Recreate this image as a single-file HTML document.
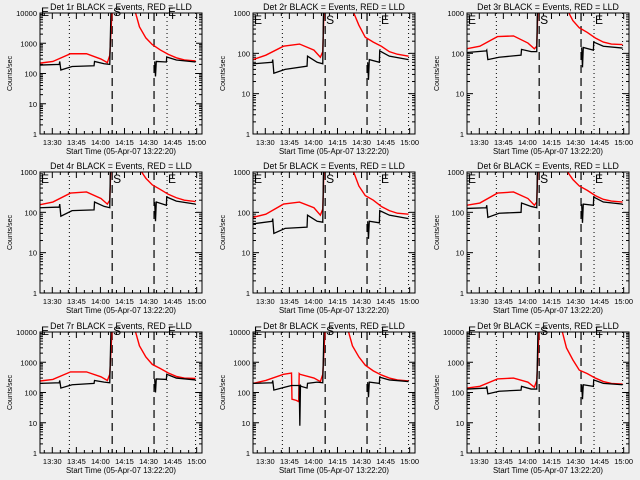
<!DOCTYPE html>
<html><head><meta charset="utf-8"><style>
html,body{margin:0;padding:0;background:#efefef;}
svg{display:block;font-family:"Liberation Sans",sans-serif;}
</style></head><body>
<svg id="chart" width="640" height="480" viewBox="0 0 640 480">
<rect width="640" height="480" fill="#efefef"/>
</svg>
<script>
// Times in minutes after 13:22:20
const tEvents = [0, 12, 12.3, 13, 20, 33.7, 34, 40, 43.5, 44.5, 58, 71.5, 72, 72.5, 78.8, 79, 85, 97];
const tLld = [0, 8, 19, 29, 38, 42, 43.5, 45, 58, 62, 66, 70, 75, 80, 85, 90, 97];
const tEvents8 = [0, 12, 12.3, 13, 20, 24, 28.5, 28.8, 29.2, 29.6, 30, 33.7, 34, 40, 43.5, 44.5, 58, 71.5, 72, 72.5, 78.8, 79, 85, 97];
const tLld8 = [0, 8, 19, 24, 24.3, 27, 28.5, 28.8, 29.2, 38, 42, 43.5, 45, 58, 62, 66, 70, 75, 80, 85, 90, 97];

const det1Events = [190,200,250,130,170,180,250,210,200,50000,null,250,80,250,240,350,280,240];
const det1Lld = [220,250,450,450,300,230,400,15000,20000,3500,1500,900,600,430,330,280,260];
const det2Events = [55,60,70,32,40,48,85,60,55,50000,null,60,22,70,60,115,85,70];
const det2Lld = [70,90,150,170,120,80,110,15000,15000,1200,500,250,190,150,110,95,85];
const det3Events = [105,115,120,70,80,90,125,110,110,50000,null,140,45,140,120,190,150,135];
const det3Lld = [130,150,260,270,180,130,150,15000,15000,1300,650,430,330,240,190,170,165];
const det4Events = [130,135,160,80,110,115,180,140,130,50000,null,180,60,180,150,240,190,160];
const det4Lld = [155,180,300,320,220,160,200,15000,15000,1200,700,480,370,280,230,200,185];
const det5Events = [52,60,70,30,40,43,85,60,57,50000,null,60,22,60,55,110,85,70];
const det5Lld = [75,90,160,180,130,85,120,15000,15000,1200,450,260,200,140,110,95,90];
const det6Events = [125,130,150,75,95,100,170,140,130,50000,null,160,55,160,150,240,180,160];
const det6Lld = [150,170,300,320,220,150,180,15000,15000,1100,650,450,350,260,210,190,180];
const det7Events = [200,210,250,140,180,200,250,220,210,50000,null,280,100,280,270,400,300,260];
const det7Lld = [240,270,480,480,330,250,400,15000,20000,3500,1500,850,620,440,340,300,290];
const det8Events = [200,210,250,120,150,170,170,170,8,170,160,140,200,220,210,50000,null,220,70,220,200,320,260,230];
const det8Lld = [200,250,400,440,60,55,50,420,400,300,230,400,15000,20000,3500,1500,800,520,380,300,260,240];
const det9Events = [130,140,160,90,110,120,160,130,130,50000,null,180,60,180,160,260,200,180];
const det9Lld = [140,160,280,300,220,150,250,15000,20000,3000,1200,550,420,300,230,200,190];

const detNames = ["1r","2r","3r","4r","5r","6r","7r","8r","9r"];
const detYMax = [10000,1000,1000,1000,1000,1000,10000,10000,10000];
const xTickLabels = ["13:30","13:45","14:00","14:15","14:30","14:45","15:00"];
const xTickTimes = [7.67,22.67,37.67,52.67,67.67,82.67,97.67];
const dottedTimes = [18.3,79.2,97];
const dashedTimes = [45,71.1];

const evSets = [det1Events,det2Events,det3Events,det4Events,det5Events,det6Events,det7Events,det8Events,det9Events];
const lldSets = [det1Lld,det2Lld,det3Lld,det4Lld,det5Lld,det6Lld,det7Lld,det8Lld,det9Lld];

const svg = document.getElementById('chart');
const NS = 'http://www.w3.org/2000/svg';
function mk(tag, attrs, parent){const e=document.createElementNS(NS,tag);for(const k in attrs)e.setAttribute(k,attrs[k]);(parent||svg).appendChild(e);return e;}

const colX = [40,253,467], rowY = [13,172,332];
const W = 162, H = 121, TMAX = 101;

for(let p=0;p<9;p++){
  const x0 = colX[p%3], y0 = rowY[Math.floor(p/3)];
  const ymax = detYMax[p];
  const dec = Math.log10(ymax);
  const xs = t => x0 + t/TMAX*W;
  const ys = v => y0 + H - Math.log10(v)/dec*H;
  const g = mk('g',{});
  
  
  const clipId='clip'+p;
  const cp = mk('clipPath',{id:clipId},g);
  mk('rect',{x:x0,y:y0,width:W,height:H},cp);

  const title = mk('text',{x:x0+W/2,y:y0-3,'text-anchor':'middle','font-size':'8.8'},g);
  title.textContent = 'Det '+detNames[p]+' BLACK = Events, RED = LLD';
  
  

  // y ticks
  for(let d=0; d<=dec; d++){
    const v = Math.pow(10,d), y = ys(v);
    mk('line',{x1:x0,x2:x0+6,y1:y,y2:y,stroke:'#000'},g);
    mk('line',{x1:x0+W,x2:x0+W-6,y1:y,y2:y,stroke:'#000'},g);
    const tl = mk('text',{x:x0-3,y:y+3,'text-anchor':'end','font-size':'7.5'},g);
    tl.textContent = String(v);
    
    
    if(d<dec){for(let m=2;m<10;m++){const ym=ys(m*v);
      mk('line',{x1:x0,x2:x0+3,y1:ym,y2:ym,stroke:'#000'},g);
      mk('line',{x1:x0+W,x2:x0+W-3,y1:ym,y2:ym,stroke:'#000'},g);}}
  }
  // x ticks
  for(let i=0;i<xTickTimes.length;i++){
    const x = xs(xTickTimes[i]);
    mk('line',{x1:x,x2:x,y1:y0+H,y2:y0+H-6,stroke:'#000'},g);
    mk('line',{x1:x,x2:x,y1:y0,y2:y0+6,stroke:'#000'},g);
    for(let m=1;m<3;m++){const xm=xs(xTickTimes[i]-m*5); if(xm>x0){
      mk('line',{x1:xm,x2:xm,y1:y0+H,y2:y0+H-3,stroke:'#000'},g);
      mk('line',{x1:xm,x2:xm,y1:y0,y2:y0+3,stroke:'#000'},g);}}
    const tl = mk('text',{x:x,y:y0+H+11,'text-anchor':'middle','font-size':'7.5'},g);
    tl.textContent = xTickLabels[i];
    
    
  }
  const xl = mk('text',{x:x0+W/2,y:y0+H+20,'text-anchor':'middle','font-size':'7.8'},g);
  xl.textContent = 'Start Time (05-Apr-07 13:22:20)';
  
  
  const yl = mk('text',{x:0,y:0,'text-anchor':'middle','font-size':'7','transform':'translate('+(x0-28)+','+(y0+H/2)+') rotate(-90)'},g);
  yl.textContent = 'Counts/sec';
  
  

  // vertical markers
  dottedTimes.forEach(t=>{const x=xs(t);const l=mk('line',{x1:x,x2:x,y1:y0,y2:y0+H,stroke:'#000','stroke-dasharray':'1 3'},g);
    
    });
  dashedTimes.forEach(t=>{const x=xs(t);const l=mk('line',{x1:x,x2:x,y1:y0,y2:y0+H,stroke:'#000','stroke-width':'1.2','stroke-dasharray':'8 5'},g);
    
    });
  const ly = ymax>1000 ? y0+3 : y0+11;
  [['E',x0+1],['S',xs(45)+1],['E',xs(79.2)+1]].forEach(a=>{const t=mk('text',{x:a[1],y:ly,'font-size':'12'},g);t.textContent=a[0];
    
    });

  // series
  function path(ts, vs){let d='',pen=false;for(let i=0;i<ts.length;i++){const v=vs[i];if(v==null){pen=false;continue;}
    d+=(pen?'L':'M')+xs(ts[i]).toFixed(2)+','+ys(v).toFixed(2);pen=true;}return d;}
  const tE = p===7 ? tEvents8 : tEvents, tL = p===7 ? tLld8 : tLld;
  const lr = mk('path',{d:path(tL,lldSets[p]),fill:'none',stroke:'#ff0000','stroke-width':'1.4','clip-path':'url(#'+clipId+')'},g);
  
  
  const lb = mk('path',{d:path(tE,evSets[p]),fill:'none',stroke:'#000','stroke-width':'1.3','clip-path':'url(#'+clipId+')'},g);
  
  

  const box = mk('rect',{x:x0,y:y0,width:W,height:H,fill:'none',stroke:'#000','stroke-width':'1'},g);
  
  
}
</script>
</body></html>
